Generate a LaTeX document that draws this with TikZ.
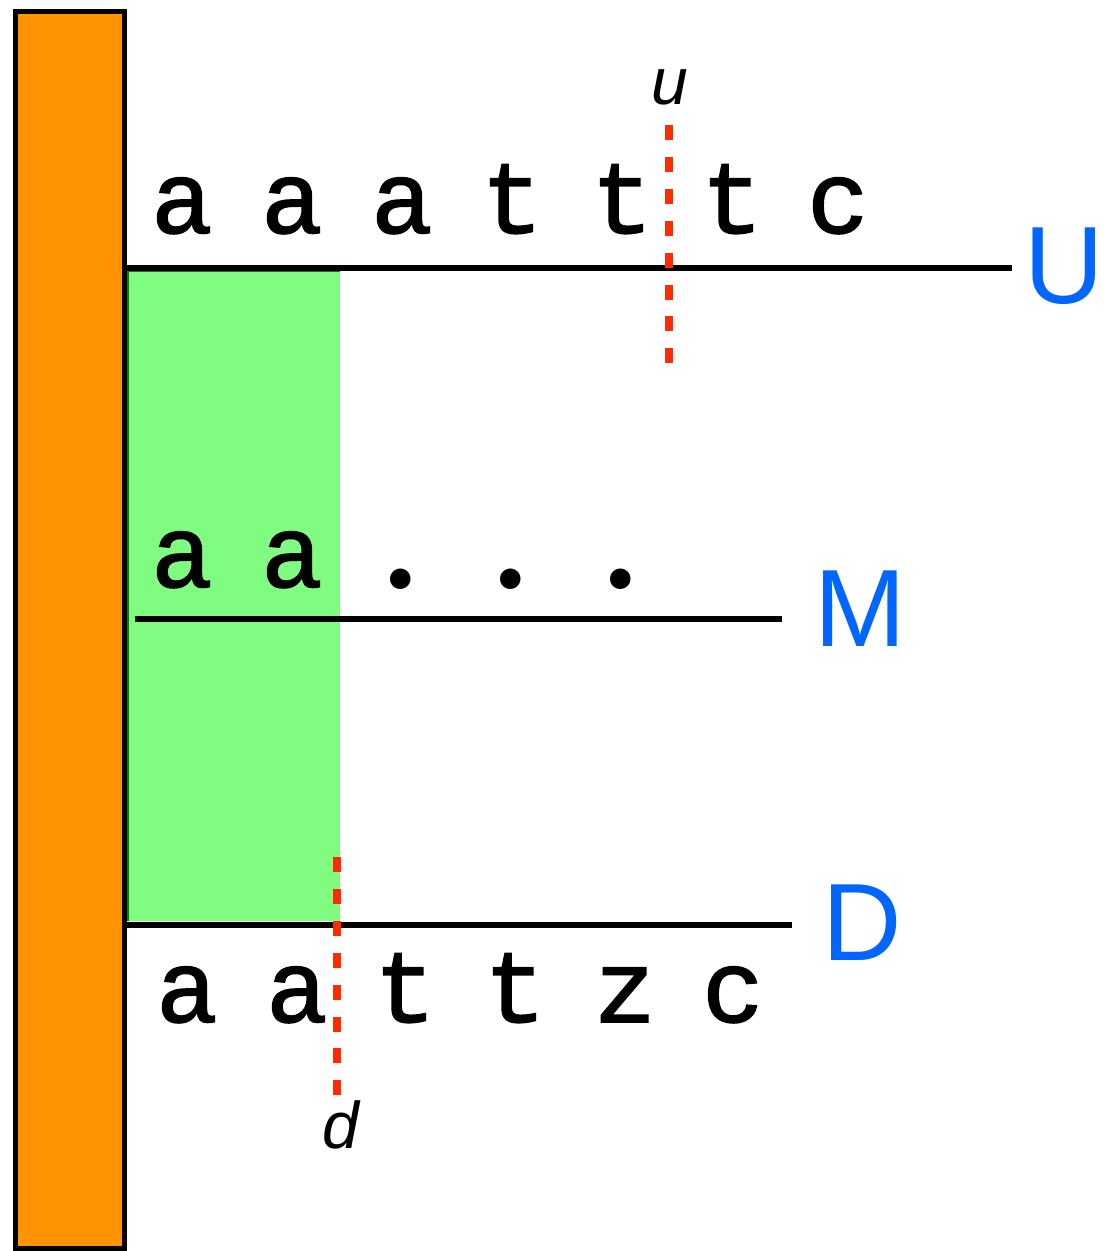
\documentclass[tikz,border=0pt]{standalone}
\usepackage{fontspec}
\newfontfamily\monof{Liberation Mono}[FakeBold=1.5]
\newfontfamily\sansf{Liberation Sans}
\definecolor{barorange}{HTML}{FF9300}
\definecolor{zonegreen}{HTML}{80FC80}
\definecolor{edgegreen}{HTML}{0A7A0A}
\definecolor{labblue}{HTML}{0066FF}
\definecolor{cutred}{HTML}{FF2A00}
\begin{document}
\begin{tikzpicture}[x=1pt,y=-1pt,
  seq/.style={anchor=base, inner sep=0pt, font=\monof\fontsize{103}{103}\selectfont},
  dotmark/.style={anchor=base, inner sep=0pt, font=\rmfamily\fontsize{250}{250}\selectfont},
  lab/.style={text=labblue, inner sep=0pt, font=\sansf\fontsize{110}{110}\selectfont},
  cutlbl/.style={inner sep=0pt, font=\sansf\itshape\fontsize{66}{66}\selectfont},
  cut/.style={draw=cutred, line width=8pt, dash pattern=on 15pt off 16.9pt},
  bar/.style={draw=black, line width=6.5pt}]
\useasboundingbox (0,0) rectangle (1104,1251);
% green zone
\fill[zonegreen] (125,270) rectangle (340,921);
\draw[edgegreen, line width=3pt] (127.5,921) -- (127.5,270) -- (340,270);
% orange wall
\draw[fill=barorange, line width=5pt] (15.5,11) rectangle (124.5,1248.5);
% lines
\coordinate (u0) at (125,268); \coordinate (u1) at (1012,268);
\coordinate (m0) at (135,619); \coordinate (m1) at (782,619);
\coordinate (d0) at (127,925); \coordinate (d1) at (792,925);
\draw[bar] (u0) -- (u1);
\draw[bar] (m0) -- (m1);
\draw[bar] (d0) -- (d1);
% top sequence
\node[seq] (ua1) at (182,233) {a};
\node[seq] (ua2) at (292,233) {a};
\node[seq] (ua3) at (402,233) {a};
\node[seq] (ut1) at (512,233) {t};
\node[seq] (ut2) at (622,233) {t};
\node[seq] (ut3) at (732,233) {t};
\node[seq] (uc)  at (838,233) {c};
% middle sequence
\node[seq] (ma1) at (182,587) {a};
\node[seq] (ma2) at (292,587) {a};
\node[dotmark] (md1) at (401,589) {.};
\node[dotmark] (md2) at (511,589) {.};
\node[dotmark] (md3) at (621,589) {.};
% bottom sequence
\node[seq] (da1) at (187,1022) {a};
\node[seq] (da2) at (297,1022) {a};
\node[seq] (dt1) at (405,1022) {t};
\node[seq] (dt2) at (515,1022) {t};
\node[seq] (dz)  at (625,1022) {z};
\node[seq] (dc)  at (733,1022) {c};
% labels
\node[lab] (U) at (1064,266) {U};
\node[lab] (M) at (860,609) {M};
\node[lab] (D) at (862,923) {D};
% cut markers
\coordinate (cu0) at (669,125); \coordinate (cu1) at (669,363);
\coordinate (cd0) at (337,857); \coordinate (cd1) at (337,1095);
\draw[cut] (cu0) -- (cu1);
\draw[cut] (cd0) -- (cd1);
\node[cutlbl, anchor=south] (ul) at (670,105) {u};
\node[cutlbl, anchor=north] (dl) at (341,1100) {d};
\end{tikzpicture}
\end{document}
